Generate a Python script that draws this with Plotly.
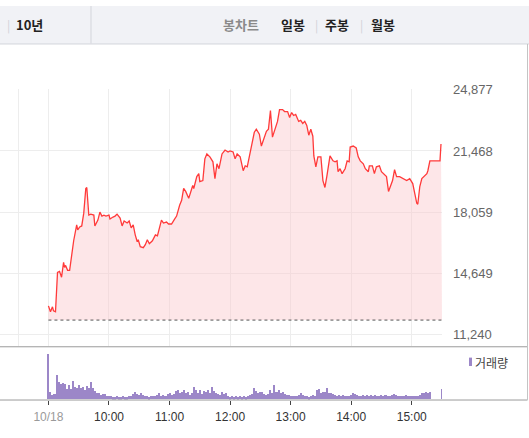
import plotly.graph_objects as go

# ---------------- data ----------------
# minutes after 09:00 on 10/18 and price
minutes = [0, 2, 4, 5, 7, 9, 11, 13, 15, 16, 17, 19, 21, 23, 25, 28, 29, 31, 33, 35, 37, 38, 40, 42, 45,
           46, 49, 51, 53, 55, 57, 60, 61, 64, 66, 68, 71, 73, 75, 78, 80, 82, 84, 86, 88, 89, 91, 94, 96,
           98, 100, 103, 106, 108, 110, 112, 114, 117, 119, 122, 125, 127, 130, 132, 134, 136, 139, 141,
           143, 144, 147, 149, 150, 153, 155, 157, 160, 163, 165, 167, 169, 172, 175, 178, 180, 183, 185,
           187, 190, 193, 195, 197, 198, 200, 204, 206, 209, 211, 214, 216, 218, 220, 222, 225, 227, 229,
           232, 234, 237, 239, 241, 243, 245, 248, 250, 252, 254, 256, 258, 260, 262, 263, 265, 267, 270,
           272, 274, 276, 277, 279, 282, 284, 286, 287, 289, 291, 294, 296, 298, 299, 302, 305, 307, 309,
           312, 314, 317, 318, 321, 323, 325, 328, 330, 332, 335, 337, 339, 341, 343, 345, 348, 351, 355,
           358, 361, 363, 365, 366, 368, 370, 373, 375, 376, 378, 381, 384, 388, 389]
price = [12834, 12504, 12779, 12559, 12504, 14704, 14759, 14429, 15254, 14979, 15089, 14814, 14814, 15804,
         16464, 17343, 17068, 17233, 17288, 18003, 19378, 19433, 17893, 17948, 17893,
         17288, 17618, 18058, 17838, 17893, 17838, 17893, 17673, 17783, 17838, 17948, 17728, 17288, 17563,
         17453, 17563, 17178, 17343, 16793, 16408, 16518, 16134, 16079, 16244,
         16518, 16299, 16464, 16793, 16738, 17178, 17618, 17453, 17508, 17398, 17398, 17673, 17838, 18443,
         18718, 19378, 19213, 18828, 19213,
         19543, 19378, 20038, 20203, 19763, 19818, 21028, 21303, 21138, 20863, 19928, 20753, 20478, 21303,
         21523, 21413, 21468, 21413, 21028,
         21303, 21138, 20368, 20643, 20588, 20863, 21468, 22512, 22678, 22402, 21743, 22238, 22567, 22678,
         23722, 22238, 22787, 23117, 23777,
         23777, 23667, 23667, 23337, 23612, 23447, 23502, 23117, 23172, 23007, 23117, 22897, 22347, 22678,
         22292, 21193, 20588, 21138, 21138,
         19818, 19433, 20093, 20478, 21193, 20918, 20863, 20918, 20313, 20478, 20203, 20478, 20918, 20863,
         21688, 21743, 21633, 21138, 20918,
         20753, 20478, 20313, 20643, 20643, 20203, 20588, 20643, 20313, 20203, 20038, 19213, 19543, 19818,
         20423, 20038, 20038, 19928, 19818,
         19928, 19653, 19103, 18553, 18498, 19488, 19928, 20093, 20203, 20368, 20918, 20918, 20918, 20918,
         21853]

base_price = 12040  # dotted reference line

# volume in 2-minute buckets (minutes after 09:00), plus the 15:30 closing print
vol_minutes = list(range(0, 380, 2)) + [390]
volume = [46, 7, 4, 5, 25, 18, 15, 17, 15, 10, 14, 10, 19, 12, 11, 14, 11, 12, 9, 13,
          11, 18, 11, 8, 6, 6, 4, 5, 5, 3, 3, 3, 2, 2, 3, 2, 2, 3, 2, 2,
          3, 3, 5, 7, 5, 4, 6, 4, 3, 3, 2, 3, 3, 3, 4, 6, 3, 4, 3, 5,
          6, 4, 5, 8, 9, 6, 7, 9, 6, 7, 4, 6, 12, 9, 6, 9, 5, 8, 7, 9,
          6, 12, 8, 6, 5, 4, 7, 5, 6, 3, 2, 3, 2, 3, 2, 3, 2, 3, 2, 3,
          4, 5, 11, 8, 6, 7, 7, 5, 4, 5, 9, 6, 14, 7, 9, 6, 7, 5, 4, 4,
          3, 3, 3, 3, 4, 6, 4, 3, 3, 2, 3, 4, 3, 9, 10, 6, 7, 7, 11, 6,
          6, 5, 4, 3, 4, 3, 4, 3, 3, 3, 4, 6, 5, 4, 3, 3, 4, 3, 4, 3,
          4, 3, 4, 3, 3, 4, 3, 4, 3, 3, 4, 5, 4, 3, 3, 3, 3, 4, 3, 3,
          3, 3, 3, 3, 4, 6, 6, 7, 6, 7, 10]

y_ticks = [11240, 14649, 18059, 21468, 24877]
x_ticks = [0, 60, 120, 180, 240, 300, 360]
x_labels = ['<span style="color:#9a9a9a">10/18</span>', "10:00", "11:00", "12:00", "13:00", "14:00", "15:00"]

# ---------------- layout helpers ----------------
W, H = 529, 438
def px(x): return x / W
def py(y): return 1 - y / H

FONT = "Liberation Sans, Arial, Noto Sans CJK KR, sans-serif"
KFONT = "Noto Sans CJK KR, sans-serif"
RED = "#ff3a3a"
PURPLE = "#9c87c8"

fig = go.Figure()

fig.add_trace(go.Scatter(x=[0, 390], y=[base_price, base_price], mode="lines",
                         line=dict(color="#555555", width=1, dash="dot"),
                         hoverinfo="skip", showlegend=False, xaxis="x", yaxis="y"))
fig.add_trace(go.Scatter(x=minutes, y=price, mode="lines",
                         line=dict(color=RED, width=1.3), fill="tonexty",
                         fillcolor="rgba(250,200,205,0.45)",
                         showlegend=False, xaxis="x", yaxis="y"))
fig.add_trace(go.Bar(x=vol_minutes, y=volume, width=2, marker=dict(color=PURPLE, line=dict(width=0)),
                     showlegend=False, xaxis="x2", yaxis="y2"))

xr = [-48, 390]
fig.update_layout(
    width=W, height=H, margin=dict(l=0, r=0, t=0, b=0),
    paper_bgcolor="white", plot_bgcolor="white",
    font=dict(family=FONT, size=12, color="#333"),
    bargap=0,
    xaxis=dict(domain=[0, px(442)], range=xr, tickvals=[-30] + x_ticks, showticklabels=False,
               showgrid=True, gridcolor="#ededed", gridwidth=1, zeroline=False, showline=False,
               ticks="", anchor="y"),
    yaxis=dict(domain=[py(345), py(84)], range=[10580, 24932], tickvals=y_ticks,
               ticktext=[f"{v:,}" for v in y_ticks], side="right", ticks="",
               ticklabelstandoff=10, tickfont=dict(size=13, color="#666"),
               showgrid=True, gridcolor="#ededed", zeroline=False, showline=False, anchor="x"),
    xaxis2=dict(domain=[0, px(442)], range=xr, tickvals=x_ticks, ticktext=x_labels,
                showgrid=False, zeroline=False, showline=False, ticks="outside", ticklen=4,
                tickcolor="#444", tickwidth=1, tickfont=dict(size=12, color="#333"),
                ticklabelstandoff=2, anchor="y2"),
    yaxis2=dict(domain=[py(399), py(346)], range=[0, 53], visible=False, anchor="x2"),
)

shapes = [
    # header
    dict(type="rect", xref="paper", yref="paper", x0=0, x1=1, y0=py(38.5), y1=1,
         fillcolor="#f1f2f6", line=dict(width=0), layer="below"),
    dict(type="line", xref="paper", yref="paper", x0=0, x1=1, y0=py(38.5), y1=py(38.5),
         line=dict(color="#d3d5db", width=1)),
    dict(type="line", xref="paper", yref="paper", x0=px(91), x1=px(91), y0=py(0), y1=py(38),
         line=dict(color="#d3d5db", width=1)),
    # panel separator and bottom axis
    dict(type="line", xref="paper", yref="paper", x0=0, x1=px(527.5), y0=py(345.5), y1=py(345.5),
         line=dict(color="#9a9a9a", width=1)),
    dict(type="line", xref="paper", yref="paper", x0=0, x1=px(527.5), y0=py(399.5), y1=py(399.5),
         line=dict(color="#9a9a9a", width=1)),
    # right frame
    dict(type="line", xref="paper", yref="paper", x0=px(527.5), x1=px(527.5), y0=py(38.5), y1=py(399.5),
         line=dict(color="#c4c4c4", width=1)),
    # volume legend marker
    dict(type="rect", xref="paper", yref="paper", x0=px(469), x1=px(472), y0=py(365), y1=py(356.5),
         fillcolor=PURPLE, line=dict(width=0)),
]
fig.update_layout(shapes=shapes)

def ann(x, y, text, size=13, color="#333", family=KFONT):
    return dict(x=px(x), y=py(y), xref="paper", yref="paper", text=text, showarrow=False,
                xanchor="left", yanchor="middle", font=dict(size=size, color=color, family=family))

annotations = [
    ann(5, 19, "|", 12, "#cfd1d6"),
    ann(14, 19, "<b>10년</b>", 13, "#222"),
    ann(221, 19, "<b>봉차트</b>", 13, "#8a8a8a"),
    ann(279, 19, "<b>일봉</b>", 13, "#222"),
    ann(313, 19, "|", 12, "#cfd1d6"),
    ann(323, 19, "<b>주봉</b>", 13, "#222"),
    ann(358, 19, "|", 12, "#cfd1d6"),
    ann(369, 19, "<b>월봉</b>", 13, "#222"),
    ann(473, 361, "거래량", 12, "#444"),
]
fig.update_layout(annotations=annotations)

fig.write_html("out.html", config={"displayModeBar": False},
               post_script="document.body.style.margin='0';document.body.style.overflow='hidden';")
